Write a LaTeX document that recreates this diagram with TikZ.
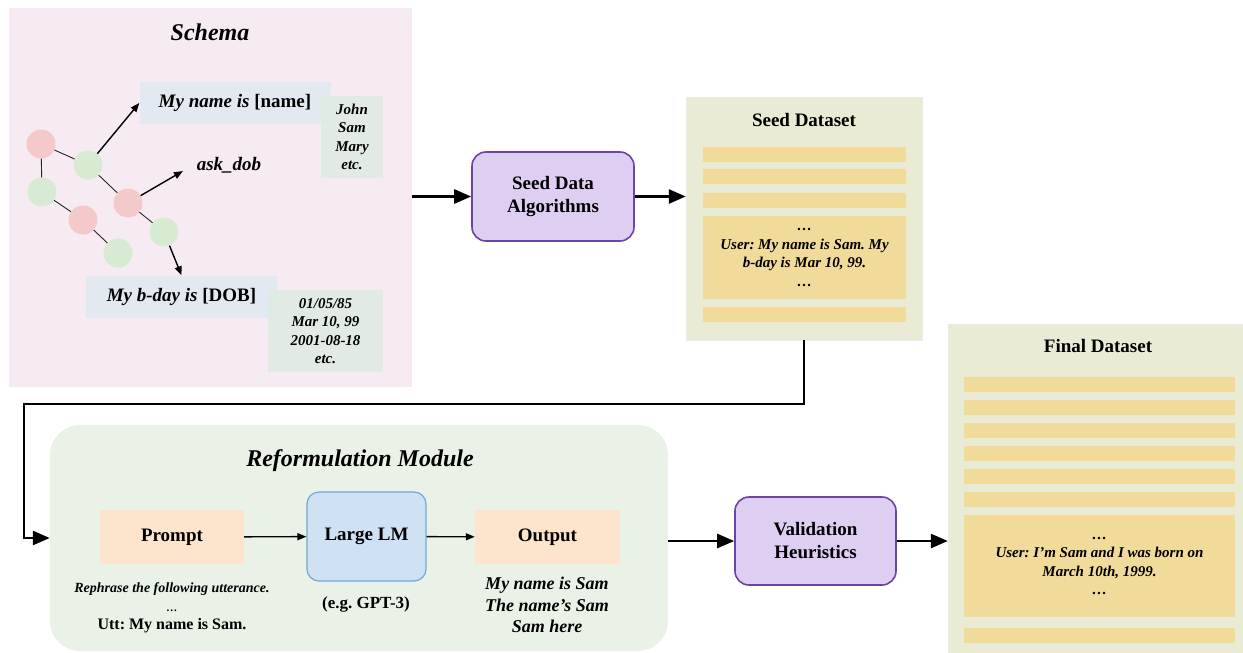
\documentclass[tikz,border=0pt]{standalone}
\usepackage{fontspec}
\setmainfont{Liberation Serif}
\usetikzlibrary{arrows.meta}
\frenchspacing

\definecolor{schemapink}{HTML}{F6EAF3}
\definecolor{phraseblue}{HTML}{E2E9F1}
\definecolor{slotgreen}{HTML}{DEECE1}
\definecolor{statepink}{HTML}{F4C9C9}
\definecolor{stategreen}{HTML}{D7EAD2}
\definecolor{algopurple}{HTML}{DECFF2}
\definecolor{algoborder}{HTML}{6B44A8}
\definecolor{datasetbg}{HTML}{E9EBD4}
\definecolor{rowyellow}{HTML}{F0DB9A}
\definecolor{modulegreen}{HTML}{EAF2E7}
\definecolor{promptorange}{HTML}{FCE4CD}
\definecolor{lmblue}{HTML}{CFE2F3}
\definecolor{lmborder}{HTML}{6FA8DC}

\newcommand{\sz}[2]{\fontsize{#1}{#2}\selectfont}

\begin{document}
\begin{tikzpicture}[x=1pt, y=-1pt,
    state/.style={circle, minimum size=29pt, inner sep=0pt},
    redstate/.style={state, fill=statepink},
    greenstate/.style={state, fill=stategreen},
    link/.style={line width=0.9pt, draw=black!85},
    arrow/.style={-{Triangle[length=9pt,width=7pt]}, line width=1.4pt},
    bigarrow/.style={-{Triangle[length=17pt,width=14pt]}, line width=2.6pt},
    boldtext/.style={font=\sz{19}{23}\bfseries},
    headtext/.style={font=\sz{24}{28}\bfseries\itshape},
    phrase/.style={fill=phraseblue, inner sep=0pt, minimum width=191pt, minimum height=42pt, boldtext},
    slots/.style={fill=slotgreen, fill opacity=0.85, text opacity=1, inner sep=0pt, align=center, font=\sz{15}{18.3}\bfseries\itshape},
    algo/.style={rounded corners=14pt, draw=algoborder, line width=1.6pt, fill=algopurple, align=center, boldtext, minimum width=162pt, minimum height=89pt},
    dataset/.style={fill=datasetbg, draw=black!8, inner sep=0pt},
    row/.style={fill=rowyellow, inner sep=0pt, align=center, font=\sz{15}{18.5}\bfseries\itshape},
    stage/.style={fill=promptorange, inner sep=0pt, minimum width=145pt, minimum height=54pt, boldtext}
]
\useasboundingbox (0,0) rectangle (1243,653);

% Schema
\node[fill=schemapink, inner sep=0pt, minimum width=403pt, minimum height=379pt] (schema) at (210.5,197.5) {};
\node[headtext] (schematitle) at (210,32) {Schema};
\node[phrase] (namephrase) at (235,103) {\textit{My name is} [name]};
\node[slots, minimum width=62pt, minimum height=82pt] (namevals) at (352,137) {John\\Sam\\Mary\\etc.};
\node[boldtext, font=\sz{19}{23}\bfseries\itshape] (askdob) at (229,165) {ask\_dob};
\node[phrase] (bdayphrase) at (181.5,296.5) {\textit{My b-day is} [DOB]};
\node[slots, minimum width=115pt, minimum height=82pt] (dobvals) at (325.5,331) {01/05/85\\Mar 10, 99\\2001-08-18\\etc.};

\node[redstate] (s1) at (41,144) {};
\node[greenstate] (s2) at (88,165) {};
\node[greenstate] (s3) at (42,192) {};
\node[redstate] (s4) at (83,220) {};
\node[redstate] (s5) at (128,203) {};
\node[greenstate] (s6) at (164,232) {};
\node[greenstate] (s7) at (118,253) {};

\draw[link] (s1) -- (s2);
\draw[link] (s1) -- (s3);
\draw[link] (s3) -- (s4);
\draw[link] (s4) -- (s7);
\draw[link] (s2) -- (s5);
\draw[link] (s5) -- (s6);

\draw[arrow] (s2) -- (namephrase.west);
\draw[arrow, shorten >=12pt] (s5) -- (askdob.west);
\draw[arrow] (s6) -- (bdayphrase.north);

% Seed data
\node[algo] (seedalgo) at (553,196.5) {Seed Data\\Algorithms};
\draw[bigarrow] (schema.east |- seedalgo) -- (seedalgo.west);

\node[dataset, minimum width=236pt, minimum height=243pt] (seedset) at (804,218.5) {};
\node[boldtext] (seedtitle) at (804,120) {Seed Dataset};
\fill[rowyellow] (703,147) rectangle (906,162);
\fill[rowyellow] (703,169) rectangle (906,184);
\fill[rowyellow] (703,193) rectangle (906,208);
\fill[rowyellow] (703,307) rectangle (906,322);
\node[row, minimum width=203pt, minimum height=83pt] (seedrow) at (804.5,257.5) {\dots\\User: My name is Sam. My\\b-day is Mar 10, 99.\\\dots};

\draw[bigarrow] (seedalgo.east) -- (seedalgo.east -| seedset.west);

% Reformulation module
\node[fill=modulegreen, rounded corners=30pt, inner sep=0pt, minimum width=618pt, minimum height=226pt] (reform) at (359,538) {};
\node[headtext] (reformtitle) at (360,461) {Reformulation Module};

\coordinate (loopcorner) at (24,404);
\draw[bigarrow] (seedset.south) |- (loopcorner) |- (reform.west);

\node[stage, minimum width=144pt] (prompt) at (172,537) {Prompt};
\node[fill=lmblue, draw=lmborder, line width=1.2pt, rounded corners=12pt, minimum width=119pt, minimum height=89pt, boldtext] (largelm) at (366.5,536.5) {Large LM};
\node[stage] (output) at (547.5,537) {Output};

\draw[arrow] (prompt) -- (largelm);
\draw[arrow] (largelm) -- (output);

\node[align=center, font=\sz{16}{18.5}\bfseries] (promptnote) at (172,608) {{\sz{14}{18.5}\itshape Rephrase the following utterance.}\\{\sz{11}{18.5}\itshape\dots}\\Utt: My name is Sam.};
\node[boldtext, font=\sz{17}{20}\bfseries] (lmnote) at (366,604) {(e.g. GPT-3)};
\node[align=center, font=\sz{18}{21.5}\bfseries\itshape] (outputnote) at (547,605) {My name is Sam\\The name’s Sam\\Sam here};

% Validation
\node[algo, minimum width=161pt, minimum height=88pt] (valid) at (815.5,541) {Validation\\Heuristics};
\draw[bigarrow] (reform.east |- valid) -- (valid.west);

\node[dataset, minimum width=295pt, minimum height=329pt] (finalset) at (1095.5,488.5) {};
\node[boldtext] (finaltitle) at (1098,346) {Final Dataset};
\fill[rowyellow] (964,377) rectangle (1235,392);
\fill[rowyellow] (964,400) rectangle (1235,415);
\fill[rowyellow] (964,423) rectangle (1235,438);
\fill[rowyellow] (964,446) rectangle (1235,461);
\fill[rowyellow] (964,469) rectangle (1235,484);
\fill[rowyellow] (964,492) rectangle (1235,507);
\fill[rowyellow] (964,628) rectangle (1235,643);
\node[row, minimum width=271pt, minimum height=102pt] (finalrow) at (1099.5,566) {\dots\\User: I’m Sam and I was born on\\March 10th, 1999.\\\dots};

\draw[bigarrow] (valid.east) -- (valid.east -| finalset.west);

\end{tikzpicture}
\end{document}
